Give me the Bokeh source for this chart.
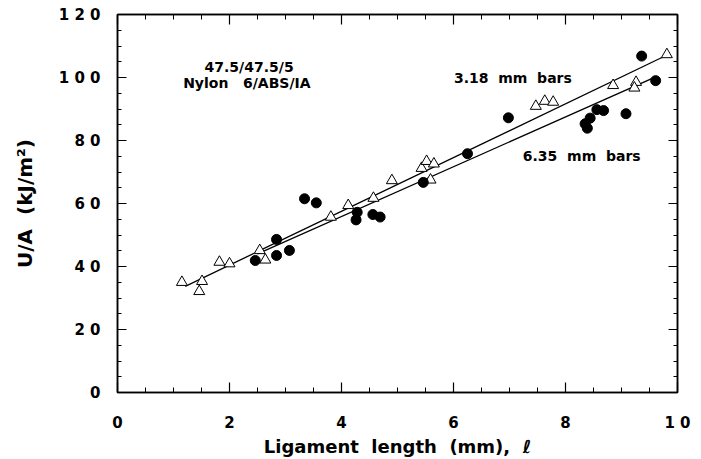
from bokeh.plotting import figure
from bokeh.models import Range1d, LinearAxis, SingleIntervalTicker, CustomJSTickFormatter
from bokeh.core.properties import value
from bokeh.embed import file_html
from bokeh.resources import INLINE

# ---- data ----
tri_x = [1.15, 1.51, 1.46, 1.82, 2.00, 2.54, 2.64, 3.81, 4.12, 4.57, 4.90,
         5.43, 5.52, 5.65, 5.59, 7.47, 7.63, 7.78, 8.85, 9.26, 9.23, 9.81]
tri_y = [35.0, 35.3, 32.1, 41.4, 40.9, 45.1, 42.1, 55.7, 59.4, 61.7, 67.3,
         71.2, 73.4, 72.6, 67.5, 90.9, 92.5, 92.2, 97.5, 98.5, 96.7, 107.3]

dot_x = [2.46, 2.84, 2.84, 3.07, 3.34, 3.55, 4.28, 4.26, 4.56, 4.69, 5.46,
         6.25, 6.98, 8.35, 8.39, 8.44, 8.56, 8.68, 9.08, 9.36, 9.61]
dot_y = [41.9, 48.6, 43.5, 45.1, 61.5, 60.2, 57.2, 54.8, 56.5, 55.7, 66.7,
         75.8, 87.2, 85.3, 83.9, 87.1, 89.8, 89.5, 88.5, 106.8, 99.0]

fit318_x = [1.21, 9.74]
fit318_y = [33.7, 106.5]
fit635_x = [2.50, 9.57]
fit635_y = [44.0, 99.9]

x_ticks = [0, 2, 4, 6, 8, 10]
x_tick_labels = ["0", "2", "4", "6", "8", "1 0"]
y_ticks = [0, 20, 40, 60, 80, 100, 120]
y_tick_labels = ["0", "2 0", "4 0", "6 0", "8 0", "1 0 0", "1 2 0"]

NB = "\u00a0"
notes = ["47.5/47.5/5", "Nylon" + NB * 3 + "6/ABS/IA",
         "3.18" + NB * 2 + "mm" + NB * 2 + "bars",
         "6.35" + NB * 2 + "mm" + NB * 2 + "bars"]

FONT = "DejaVu Sans"

p = figure(frame_width=560, frame_height=378,
           x_range=Range1d(0, 10), y_range=Range1d(0, 120),
           output_backend="svg", toolbar_location=None,
           min_border_left=117, min_border_right=24,
           min_border_top=14, min_border_bottom=67,
           x_axis_label="Ligament" + NB * 2 + "length" + NB * 2 + "(mm)," + NB * 2 + "ℓ",
           y_axis_label="U/A" + NB * 2 + "(kJ/m²)")
p.background_fill_color = "white"
p.border_fill_color = "white"
p.outline_line_color = "black"
p.outline_line_width = 1.5
p.xgrid.visible = False
p.ygrid.visible = False

xt = SingleIntervalTicker(interval=2, num_minor_ticks=4)
yt = SingleIntervalTicker(interval=20, num_minor_ticks=4)

def style(ax, ticker, overrides=None, label=True, major=9, minor=4):
    ax.ticker = ticker
    ax.axis_line_color = "black"
    ax.axis_line_width = 1.5
    ax.major_tick_in = major
    ax.major_tick_out = 0
    ax.minor_tick_in = minor
    ax.minor_tick_out = 0
    ax.major_tick_line_width = 1.2
    ax.minor_tick_line_width = 1.0
    ax.major_tick_line_color = "black"
    ax.minor_tick_line_color = "black"
    if label:
        ax.major_label_overrides = overrides
        ax.major_label_text_font = FONT
        ax.major_label_text_font_style = "bold"
        ax.major_label_text_font_size = "15px"
        ax.major_label_text_color = "black"
        ax.axis_label_text_font = FONT
        ax.axis_label_text_font_style = "bold"
        ax.axis_label_text_color = "black"
    else:
        ax.formatter = CustomJSTickFormatter(code="return '';")
        ax.major_label_standoff = 0

xa = p.xaxis[0]
ya = p.yaxis[0]
style(xa, xt, {t: s for t, s in zip(x_ticks, x_tick_labels)}, major=10, minor=5)
style(ya, yt, {t: s for t, s in zip(y_ticks, y_tick_labels)}, major=9, minor=4)
xa.major_label_standoff = 21
xa.axis_label_standoff = 1
xa.axis_label_text_font_size = "18px"
ya.major_label_standoff = 17
ya.axis_label_standoff = 19
ya.axis_label_text_font_size = "20px"

top = LinearAxis()
right = LinearAxis()
style(top, SingleIntervalTicker(interval=2, num_minor_ticks=4), label=False, major=10, minor=5)
style(right, SingleIntervalTicker(interval=20, num_minor_ticks=4), label=False, major=9, minor=4)
p.add_layout(top, "above")
p.add_layout(right, "right")

# fitted lines
p.line(fit318_x, fit318_y, line_color="black", line_width=1.3)
p.line(fit635_x, fit635_y, line_color="black", line_width=1.3)

# points
p.scatter(tri_x, tri_y, marker="triangle", size=11, fill_color="white",
          line_color="black", line_width=1.0)
p.scatter(dot_x, dot_y, marker="circle", size=10, fill_color="black",
          line_color="black")

# annotations
p.text(x=[2.35, 2.31, 7.06, 8.29], y=[103.2, 98.1, 99.7, 75.2], text=notes,
       text_font=value(FONT), text_font_style="bold", text_font_size="14px",
       text_align="center", text_baseline="middle", text_color="black")

open("out.html", "w").write(file_html(p, INLINE))
